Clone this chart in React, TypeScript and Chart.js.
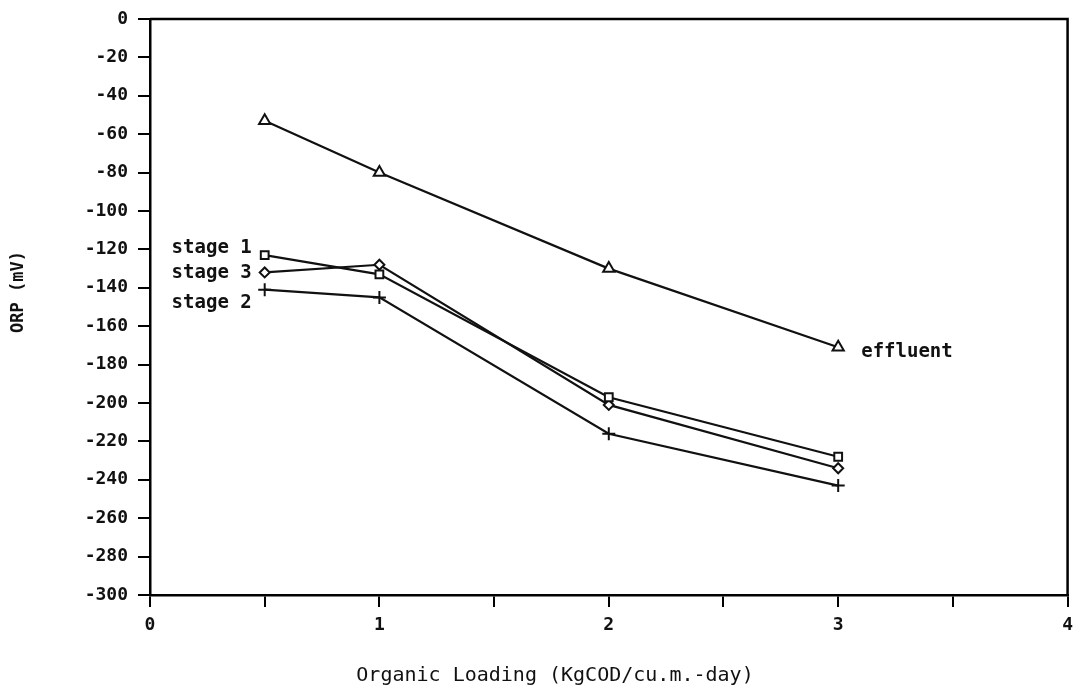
import React, { useEffect, useRef } from "react";
import { Chart, registerables } from "chart.js";

Chart.register(...registerables);

const loading = [0.5, 1, 2, 3];
const effluent = [-53, -80, -130, -171];
const stage1 = [-123, -133, -197, -228];
const stage3 = [-132, -128, -201, -234];
const stage2 = [-141, -145, -216, -243];
const seriesNames = ["effluent", "stage 1", "stage 3", "stage 2"];
const xTitle = "Organic Loading (KgCOD/cu.m.-day)";
const yTitle = "ORP (mV)";

const FONT = "'DejaVu Sans Mono', monospace";

const toPts = (ys: number[]) => loading.map((x, i) => ({ x, y: ys[i] }));

const annotate = {
  id: "annotate",
  afterDatasetsDraw(chart: any) {
    const ctx = chart.ctx;
    const a = chart.chartArea;
    ctx.save();
    ctx.strokeStyle = "#000";
    ctx.lineWidth = 2.5;
    ctx.beginPath();
    ctx.moveTo(a.left, a.top);
    ctx.lineTo(a.right, a.top);
    ctx.lineTo(a.right, a.bottom);
    ctx.stroke();

    ctx.fillStyle = "#111";
    ctx.font = `bold 19px ${FONT}`;
    ctx.textBaseline = "middle";
    const p1 = chart.getDatasetMeta(1).data[0];
    const p3 = chart.getDatasetMeta(2).data[0];
    const p2 = chart.getDatasetMeta(3).data[0];
    ctx.textAlign = "right";
    ctx.fillText(seriesNames[1], p1.x - 13, p1.y - 7);
    ctx.fillText(seriesNames[2], p3.x - 13, p3.y + 1);
    ctx.fillText(seriesNames[3], p2.x - 13, p2.y + 13);
    const pe = chart.getDatasetMeta(0).data[3];
    ctx.textAlign = "left";
    ctx.fillText(seriesNames[0], pe.x + 23, pe.y + 5);

    ctx.font = `20px ${FONT}`;
    ctx.textAlign = "center";
    ctx.fillText(xTitle, 555, 676);
    ctx.font = `bold 17px ${FONT}`;
    ctx.translate(19, 292);
    ctx.rotate(-Math.PI / 2);
    ctx.fillText(yTitle, 0, 0);
    ctx.restore();
  },
};

export default function App() {
  const ref = useRef<HTMLCanvasElement | null>(null);
  useEffect(() => {
    if (!ref.current) return;
    const common = {
      borderColor: "#111",
      backgroundColor: "rgba(0,0,0,0)",
      pointBorderColor: "#111",
      pointBackgroundColor: "#fff",
      borderWidth: 2.2,
      pointBorderWidth: 2,
      pointRadius: 5.5,
      tension: 0,
      fill: false,
    };
    const chart = new Chart(ref.current, {
      type: "line",
      data: {
        datasets: [
          { ...common, label: seriesNames[0], data: toPts(effluent), pointStyle: "triangle", pointRadius: 6.5 },
          { ...common, label: seriesNames[1], data: toPts(stage1), pointStyle: "rect" },
          { ...common, label: seriesNames[2], data: toPts(stage3), pointStyle: "rectRot", pointRadius: 5 },
          { ...common, label: seriesNames[3], data: toPts(stage2), pointStyle: "cross", pointRadius: 6.5 },
        ],
      },
      options: {
        animation: false,
        responsive: true,
        maintainAspectRatio: false,
        layout: { padding: { top: 4, right: 11, left: 0, bottom: 0 } },
        plugins: { legend: { display: false }, tooltip: { enabled: false }, title: { display: false } },
        scales: {
          x: {
            type: "linear",
            min: 0,
            max: 4,
            border: { color: "#000", width: 2.5 },
            grid: { drawOnChartArea: false, drawTicks: true, tickLength: 12, color: "#000", lineWidth: 2 },
            ticks: {
              stepSize: 0.5,
              autoSkip: false,
              maxRotation: 0,
              padding: 8,
              color: "#111",
              font: { family: FONT, size: 18, weight: "bold" },
              callback: (v: any) => (Number.isInteger(v) ? String(v) : ""),
            },
            afterFit: (s: any) => {
              s.height = 100;
            },
          },
          y: {
            type: "linear",
            min: -300,
            max: 0,
            border: { color: "#000", width: 2.5 },
            grid: { drawOnChartArea: false, drawTicks: true, tickLength: 12, color: "#000", lineWidth: 2 },
            ticks: {
              stepSize: 20,
              padding: 10,
              color: "#111",
              font: { family: FONT, size: 18, weight: "bold", lineHeight: 1 },
              callback: (v: any) => String(v),
            },
            afterFit: (s: any) => {
              s.width = 150;
            },
          },
        },
      },
      plugins: [annotate],
    } as any);
    return () => chart.destroy();
  }, []);
  return (
    <div style={{ position: "fixed", left: 0, top: 0, width: 1081, height: 695, background: "#fff" }}>
      <canvas ref={ref} />
    </div>
  );
}
